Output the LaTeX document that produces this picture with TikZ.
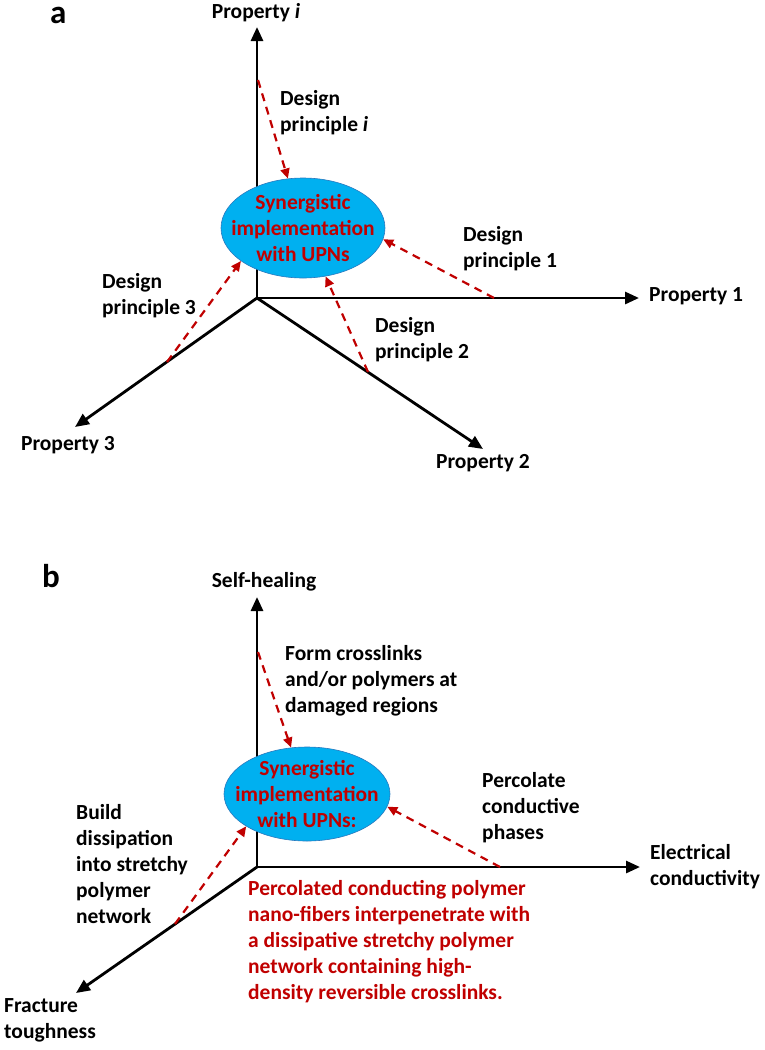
\documentclass[tikz,border=0pt]{standalone}
\usepackage{fontspec}
\setmainfont{Carlito}
\usetikzlibrary{arrows.meta,positioning,shapes.geometric}
\definecolor{upnblue}{RGB}{0,176,240}
\definecolor{upnedge}{RGB}{40,120,190}
\definecolor{upnred}{RGB}{192,0,0}
\begin{document}
\begin{tikzpicture}[x=1pt,y=-1pt]
  \useasboundingbox (0,0) rectangle (764,1050);
  \tikzset{
    axis/.style={line width=2.8pt,-{Triangle[length=14pt,width=12pt]}},
    principle/.style={draw=upnred,line width=2.2pt,dash pattern=on 8pt off 6pt,-{Triangle[length=10pt,width=9pt]}},
    synergy/.style={ellipse,fill=upnblue,draw=upnedge,line width=0.6pt,inner sep=0pt},
    lbl/.style={font=\bfseries\fontsize{21.5}{26}\selectfont,align=left,inner sep=0pt},
    panel/.style={font=\bfseries\fontsize{33}{33}\selectfont,inner sep=0pt}
  }
  % panel a
  \node[panel,anchor=base west] (pa) at (50,23) {a};
  \coordinate (oa) at (257,298);
  \coordinate (ai) at (257,27);
  \coordinate (a1) at (639,298);
  \coordinate (a2) at (483,449);
  \coordinate (a3) at (75,427);
  \foreach \e in {ai,a1,a2,a3}
    \draw[axis] (oa) -- (\e);
  \node[synergy,minimum width=164pt,minimum height=100pt] (sa) at (303,228) {};
  \node[lbl,text=upnred,align=center] (ta) at (sa) {Synergistic\\implementation\\with UPNs};
  \node[lbl] (lai) at (256,13) {Property \textit{i}};
  \node[lbl,anchor=west] (la1) at (649,296) {Property 1};
  \node[lbl] (la2) at (483,463) {Property 2};
  \node[lbl] (la3) at (68,445) {Property 3};
  \node[lbl,anchor=west] (dpi) at (280,113) {Design\\principle \textit{i}};
  \node[lbl,anchor=west] (dp1) at (463,249) {Design\\principle 1};
  \node[lbl,anchor=west] (dp2) at (375,340) {Design\\principle 2};
  \node[lbl,anchor=west] (dp3) at (102,296) {Design\\principle 3};
  \coordinate (si) at (258,80);
  \coordinate (s1) at (494,298);
  \coordinate (s2) at (368,372);
  \coordinate (s3) at (167,362);
  \foreach \s/\e in {si/sa.107,s1/sa.-8,s2/sa.-65,s3/sa.208}
    \draw[principle] (\s) -- (\e);
  % panel b
  \node[panel,anchor=base west] (pb) at (42,587) {b};
  \coordinate (ob) at (257,867);
  \coordinate (bh) at (257,597);
  \coordinate (be) at (640,867);
  \coordinate (bf) at (76,993);
  \foreach \e in {bh,be,bf}
    \draw[axis] (ob) -- (\e);
  \node[synergy,minimum width=166pt,minimum height=94pt] (sb) at (307,794) {};
  \node[lbl,text=upnred,align=center] (tb) at (sb) {Synergistic\\implementation\\with UPNs:};
  \node[lbl] (lbh) at (264,582) {Self-healing};
  \node[lbl,anchor=west] (lbe) at (650,867) {Electrical\\conductivity};
  \node[lbl,anchor=west] (lbf) at (4,1020) {Fracture\\toughness};
  \node[lbl,anchor=west] (form) at (285,681) {Form crosslinks\\and/or polymers at\\damaged regions};
  \node[lbl,anchor=west] (perc) at (482,808) {Percolate\\conductive\\phases};
  \node[lbl,anchor=west] (build) at (76,864) {Build\\dissipation\\into stretchy\\polymer\\network};
  \node[lbl,anchor=west,text=upnred] (result) at (248,942) {Percolated conducting polymer\\nano-fibers interpenetrate with\\a dissipative stretchy polymer\\network containing high-\\density reversible crosslinks.};
  \coordinate (sh) at (258,652);
  \coordinate (se) at (500,867);
  \coordinate (sf) at (175,924);
  \foreach \s/\e in {sh/sb.109,se/sb.-9,sf/sb.208}
    \draw[principle] (\s) -- (\e);
\end{tikzpicture}
\end{document}
